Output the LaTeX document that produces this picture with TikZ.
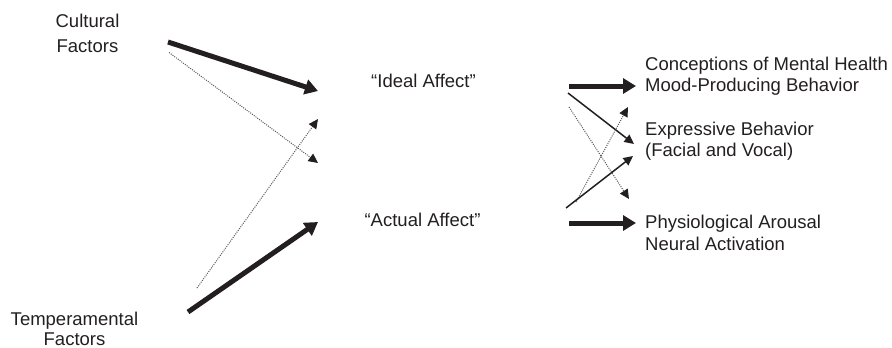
\documentclass[tikz,border=0pt]{standalone}
\usepackage{fontspec}
\setmainfont{Liberation Sans}
\usetikzlibrary{arrows.meta}
\definecolor{ink}{HTML}{231F20}
\tikzset{
  lbl/.style={inner sep=0pt, text=ink, font=\fontsize{18.5}{21}\selectfont},
  thick arrow/.style={draw=ink, line width=5pt, -{Triangle[length=13pt,width=15pt]}},
  thin arrow/.style={draw=ink, line width=1.5pt, -{Triangle[length=9.5pt,width=9pt]}},
  dot arrow/.style={draw=ink!75, line width=1pt, dash pattern=on 1pt off 1.2pt, -{Triangle[length=9.5pt,width=9pt,color=ink]}}
}
\begin{document}
\begin{tikzpicture}[x=1pt,y=-1pt]
\useasboundingbox (0,0) rectangle (892,348);
% text nodes
\node[lbl, align=center, anchor=north, font=\fontsize{18.5}{25}\selectfont] (cult) at (87.5,13.5) {Cultural\\Factors};
\node[lbl, align=center, anchor=north, font=\fontsize{18.5}{19.5}\selectfont] (temp) at (74.5,312) {Temperamental\\Factors};
\node[lbl, anchor=north] (ideal) at (423.5,74) {“Ideal Affect”};
\node[lbl, anchor=north] (actual) at (422.5,213) {“Actual Affect”};
\node[lbl, align=left, anchor=north west] (mh) at (645,57) {Conceptions of Mental Health\\Mood-Producing Behavior};
\node[lbl, align=left, anchor=north west] (ex) at (645,121.5) {Expressive Behavior\\(Facial and Vocal)};
\node[lbl, align=left, anchor=north west, font=\fontsize{18.5}{21.5}\selectfont] (ph) at (645,215) {Physiological Arousal\\Neural Activation};
% coordinates left
\coordinate (c1) at (168,42);
\coordinate (i1) at (318,91);
\coordinate (c2) at (169,52.5);
\coordinate (a2) at (318,163);
\coordinate (t2) at (197,288);
\coordinate (i2) at (318,119);
\coordinate (t1) at (188,312);
\coordinate (a1) at (318,222);
% coordinates right
\coordinate (r1s) at (569,86);
\coordinate (r1e) at (636,86);
\coordinate (r2s) at (568,93);
\coordinate (r2e) at (634,144);
\coordinate (r3s) at (569,107);
\coordinate (r3e) at (629,199);
\coordinate (r4s) at (576,202);
\coordinate (r4e) at (628,107);
\coordinate (r5s) at (566,208);
\coordinate (r5e) at (633,156);
\coordinate (r6s) at (569,223);
\coordinate (r6e) at (636,223);
% arrows
\draw[thick arrow] (c1) -- (i1);
\draw[dot arrow] (c2) -- (a2);
\draw[dot arrow] (t2) -- (i2);
\draw[thick arrow] (t1) -- (a1);
\draw[thick arrow] (r1s) -- (r1e);
\draw[thin arrow] (r2s) -- (r2e);
\draw[dot arrow] (r3s) -- (r3e);
\draw[dot arrow] (r4s) -- (r4e);
\draw[thin arrow] (r5s) -- (r5e);
\draw[thick arrow] (r6s) -- (r6e);
\end{tikzpicture}
\end{document}
